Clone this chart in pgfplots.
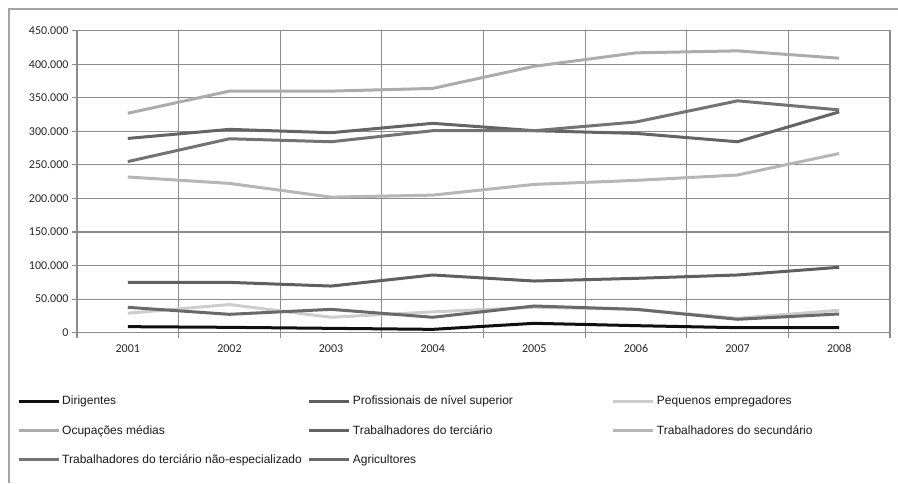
\documentclass[border=0pt]{standalone}
\usepackage{pgfplots}
\pgfplotsset{compat=1.18}
\usepackage{fontspec}
\setmainfont{Liberation Sans}
\newfontfamily\carlito{Carlito}
\definecolor{gridgray}{RGB}{140,140,140}
\definecolor{framegray}{RGB}{165,165,165}
\definecolor{cDir}{RGB}{15,15,15}
\definecolor{cProf}{RGB}{95,95,95}
\definecolor{cPeq}{RGB}{205,205,205}
\definecolor{cOcu}{RGB}{172,172,172}
\definecolor{cTer}{RGB}{100,100,100}
\definecolor{cSec}{RGB}{182,182,182}
\definecolor{cTne}{RGB}{115,115,115}
\definecolor{cAgr}{RGB}{105,105,105}
\begin{document}
\begin{tikzpicture}
\path[use as bounding box] (-77pt,-150.3pt) rectangle (821pt,332.7pt);
\draw[framegray, line width=1.3pt] (-68pt,-150.3pt) -- (-68pt,323.7pt) -- (821pt,323.7pt);
\begin{axis}[
  at={(0pt,0pt)}, anchor=origin,
  scale only axis, width=813pt, height=302pt,
  xmin=0.5, xmax=8.5, ymin=0, ymax=450000,
  xtick={1,...,8},
  xticklabels={2001,2002,2003,2004,2005,2006,2007,2008},
  minor xtick={0.5,1.5,...,8.5},
  major x tick style={draw=none},
  xminorgrids=true, ymajorgrids=true,
  ytick={0,50000,...,450000},
  yticklabels={0,50.000,100.000,150.000,200.000,250.000,300.000,350.000,400.000,450.000},
  scaled y ticks=false,
  tick pos=left, tick align=outside,
  major tick length=5pt, minor tick length=5pt,
  every tick/.style={draw=gridgray, line width=1.1pt},
  grid style={draw=gridgray, line width=1.1pt},
  minor grid style={draw=gridgray, line width=1.1pt},
  axis line style={draw=gridgray, line width=1.2pt},
  ticklabel style={font=\carlito\fontsize{12}{14}\selectfont, text=black!85},
  xticklabel style={yshift=-3pt},
  legend columns=3,
  legend cell align=left,
  legend style={at={(axis description cs:0,0)}, anchor=north west,
    xshift=-63pt, yshift=-59pt, draw=none, fill=none,
    font=\fontsize{12}{14}\selectfont, text=black!90,
    row sep=15pt,
    /tikz/column 2/.style={column sep=4pt},
    /tikz/column 4/.style={column sep=97pt}},
  legend image code/.code={\draw[#1, line width=3pt] (0pt,0pt) -- (40pt,0pt);},
  every axis plot/.append style={line width=3pt, line join=round},
]
\addplot[cDir] coordinates {(1,9000) (2,8000) (3,6500) (4,5000) (5,14000) (6,10500) (7,7500) (8,7500)};
\addlegendentry{Dirigentes}
\addplot[cProf] coordinates {(1,75000) (2,75000) (3,69500) (4,86000) (5,77000) (6,81000) (7,86000) (8,97500)};
\addlegendentry{Profissionais de nível superior}
\addplot[cPeq] coordinates {(1,29000) (2,42000) (3,23000) (4,31000) (5,38000) (6,35000) (7,21500) (8,33500)};
\addlegendentry{Pequenos empregadores}
\addplot[cOcu] coordinates {(1,327000) (2,360000) (3,360000) (4,364000) (5,397000) (6,417000) (7,420000) (8,409000)};
\addlegendentry{Ocupações médias}
\addplot[cTer] coordinates {(1,289500) (2,303000) (3,298000) (4,312000) (5,301000) (6,297000) (7,284500) (8,329000)};
\addlegendentry{Trabalhadores do terciário}
\addplot[cSec] coordinates {(1,232000) (2,222500) (3,202000) (4,205000) (5,221000) (6,227000) (7,235000) (8,267000)};
\addlegendentry{Trabalhadores do secundário}
\addplot[cTne] coordinates {(1,255000) (2,289000) (3,284500) (4,301000) (5,301000) (6,314000) (7,345500) (8,332000)};
\addlegendentry{Trabalhadores do terciário não-especializado}
\addplot[cAgr] coordinates {(1,37800) (2,27400) (3,34800) (4,23000) (5,39800) (6,34800) (7,20000) (8,27900)};
\addlegendentry{Agricultores}
\end{axis}
\end{tikzpicture}
\end{document}
